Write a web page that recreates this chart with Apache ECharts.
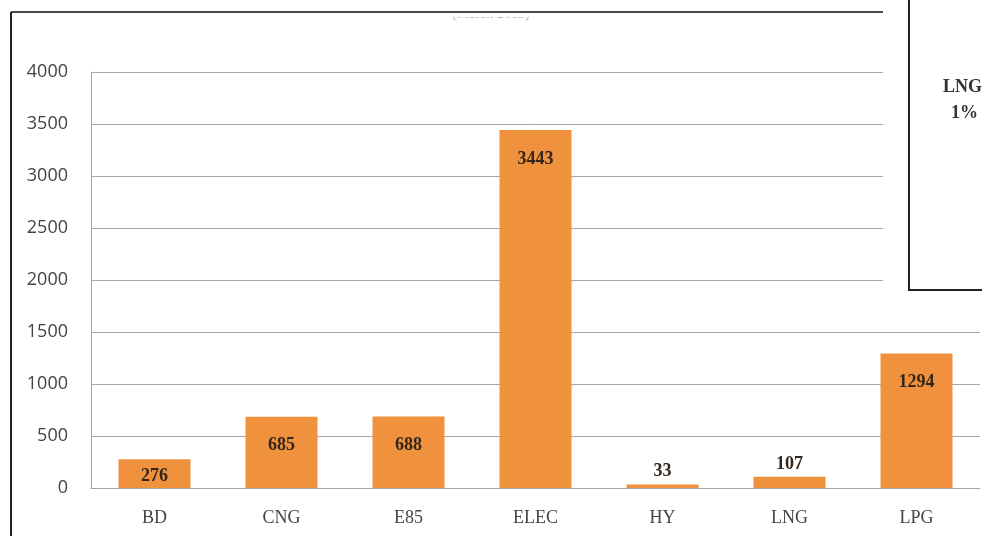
<!DOCTYPE html>
<html>
<head>
<meta charset="utf-8">
<script src="https://cdn.jsdelivr.net/npm/echarts@6/dist/echarts.min.js"></script>
<style>
html,body{margin:0;padding:0;background:#fff;}
#chart{width:982px;height:536px;}
</style>
</head>
<body>
<div id="chart"></div>
<script>
const categories = ['BD', 'CNG', 'E85', 'ELEC', 'HY', 'LNG', 'LPG'];
const values = [276, 685, 688, 3443, 33, 107, 1294];
const labelPositions = ['inside', 'insideTop', 'insideTop', 'insideTop', 'top', 'top', 'insideTop'];
const yTicks = { min: 0, max: 4000, interval: 500 };
const titleText = '(March 2013)';
const pieLabel = ['LNG', '1%'];

const chart = echarts.init(document.getElementById('chart'));
const seriesData = values.map((v, i) => ({
  value: v,
  label: {
    position: labelPositions[i],
    distance: labelPositions[i] === 'insideTop' ? 20 : 4,
    offset: labelPositions[i] === 'inside' ? [0, 3] : [0, 0]
  }
}));

chart.setOption({
  animation: false,
  backgroundColor: '#fff',
  grid: { left: 91, right: 2, top: 72, bottom: 48, containLabel: false },
  xAxis: {
    type: 'category',
    data: categories,
    axisLine: { show: true, lineStyle: { color: '#a6a6a6', width: 1 } },
    axisTick: { show: false },
    axisLabel: { margin: 21, color: '#444', fontFamily: 'Liberation Serif', fontSize: 18 }
  },
  yAxis: {
    type: 'value',
    min: yTicks.min, max: yTicks.max, interval: yTicks.interval,
    axisLine: { show: true, lineStyle: { color: '#a6a6a6', width: 1 } },
    axisTick: { show: false },
    splitLine: { show: true, lineStyle: { color: '#a6a6a6', width: 1 } },
    axisLabel: { margin: 23, color: '#444', fontFamily: 'Open Sans', fontSize: 18, formatter: v => String(v) }
  },
  series: [{
    type: 'bar',
    data: seriesData,
    barWidth: 72,
    itemStyle: { color: '#F0913D' },
    label: {
      show: true,
      color: '#33261a',
      fontFamily: 'Liberation Serif',
      fontWeight: 'bold',
      fontSize: 18
    }
  }],
  graphic: [
    { type: 'text', left: 'center', top: 7, z: 1, style: { text: titleText, fill: '#b5b5b5', font: '14px "Liberation Serif"' } },
    { type: 'rect', shape: { x: 11, y: 0, width: 872, height: 17 }, style: { fill: '#fff' }, z: 2 },
    { type: 'line', shape: { x1: 11, y1: 12, x2: 883, y2: 12 }, style: { stroke: '#4a4a4a', lineWidth: 2 }, z: 3 },
    { type: 'line', shape: { x1: 11, y1: 12, x2: 11, y2: 536 }, style: { stroke: '#222', lineWidth: 2 }, z: 3 },
    { type: 'rect', shape: { x: 883, y: 0, width: 99, height: 291 }, style: { fill: '#fff' }, z: 10 },
    { type: 'line', shape: { x1: 909, y1: 0, x2: 909, y2: 291 }, style: { stroke: '#222', lineWidth: 2 }, z: 11 },
    { type: 'line', shape: { x1: 909, y1: 290, x2: 982, y2: 290 }, style: { stroke: '#222', lineWidth: 2 }, z: 11 },
    { type: 'text', x: 943, y: 78, z: 11, style: { text: pieLabel[0], fill: '#333', font: 'bold 18px "Liberation Serif"' } },
    { type: 'text', x: 951, y: 104, z: 11, style: { text: pieLabel[1], fill: '#333', font: 'bold 18px "Liberation Serif"' } }
  ]
});
</script>
</body>
</html>
